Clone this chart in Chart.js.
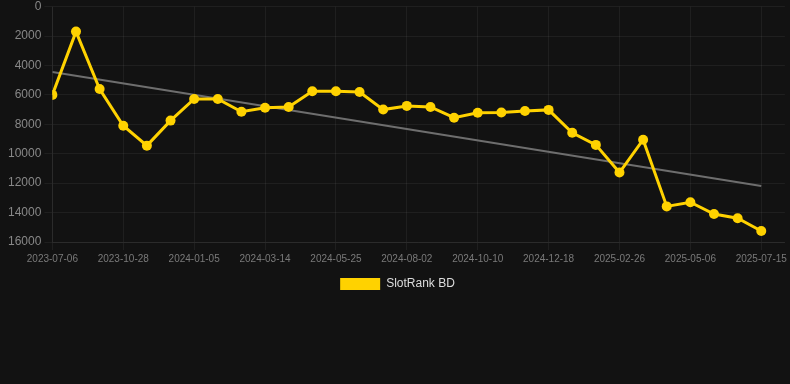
<!DOCTYPE html>
<html>
<head>
<meta charset="utf-8">
<script src="https://cdn.jsdelivr.net/npm/chart.js@4.4.0/dist/chart.umd.min.js"></script>
<style>
  html, body { margin: 0; padding: 0; background: #121212; }
  #wrap { width: 790px; height: 300px; position: relative; }
</style>
</head>
<body>
<div id="wrap"><canvas id="myChart"></canvas></div>
<script>
// fechas de cada punto (categorias)
const fechas = [
  '2023-07-06', '2023-08-13', '2023-09-20', '2023-10-28', '2023-11-20', '2023-12-13',
  '2024-01-05', '2024-01-28', '2024-02-20', '2024-03-14', '2024-04-07', '2024-05-01',
  '2024-05-25', '2024-06-17', '2024-07-10', '2024-08-02', '2024-08-25', '2024-09-17',
  '2024-10-10', '2024-11-02', '2024-11-25', '2024-12-18', '2025-01-10', '2025-02-02',
  '2025-02-26', '2025-03-21', '2025-04-13', '2025-05-06', '2025-05-29', '2025-06-21',
  '2025-07-15'
];
// posicion en el ranking
const ranking = [
  6000, 1700, 5600, 8100, 9450, 7750, 6280, 6280, 7150, 6880,
  6820, 5750, 5750, 5800, 7000, 6750, 6820, 7550, 7220, 7200,
  7100, 7020, 8580, 9400, 11280, 9050, 13580, 13300, 14100, 14380,
  15250
];
// linea de tendencia (inicio y fin)
const tendencia = [4450, 12200];
const ticksY = [0, 2000, 4000, 6000, 8000, 10000, 12000, 14000, 16000];

const amarillo = '#FFD200';
const rejilla = 'rgba(255,255,255,0.055)';
const fuente = "Arial, 'Liberation Sans', sans-serif";

const puntos = ranking.map((v, i) => ({ x: i, y: v }));
const lineaTendencia = [
  { x: 0, y: tendencia[0] },
  { x: fechas.length - 1, y: tendencia[1] }
];

new Chart(document.getElementById('myChart'), {
  type: 'line',
  data: {
    datasets: [
      {
        label: 'SlotRank BD',
        data: puntos,
        borderColor: amarillo,
        backgroundColor: amarillo,
        borderWidth: 3,
        pointRadius: 5,
        pointBackgroundColor: amarillo,
        pointBorderColor: amarillo,
        pointBorderWidth: 0,
        tension: 0
      },
      {
        label: 'trend',
        data: lineaTendencia,
        borderColor: '#6e6e6e',
        borderWidth: 2,
        pointRadius: 0,
        tension: 0
      }
    ]
  },
  options: {
    responsive: true,
    maintainAspectRatio: false,
    animation: false,
    layout: { padding: { left: 5, right: 0, top: 0, bottom: 0 } },
    plugins: {
      tooltip: { enabled: false },
      legend: {
        position: 'bottom',
        labels: {
          color: '#dddddd',
          boxWidth: 40,
          boxHeight: 12,
          font: { family: fuente, size: 12 },
          filter: (item) => item.text !== 'trend',
          generateLabels: (chart) => {
            const items = Chart.defaults.plugins.legend.labels.generateLabels(chart);
            items.forEach((it) => { it.lineWidth = 0; });
            return items;
          }
        }
      }
    },
    scales: {
      x: {
        type: 'linear',
        min: 0,
        max: fechas.length,
        grid: { color: rejilla },
        border: { color: rejilla },
        ticks: {
          stepSize: 3,
          autoSkip: false,
          maxRotation: 0,
          includeBounds: false,
          color: '#7a7a7a',
          font: { family: fuente, size: 10 },
          callback: (v) => fechas[v] !== undefined ? fechas[v] : null
        }
      },
      y: {
        reverse: true,
        min: ticksY[0],
        max: ticksY[ticksY.length - 1],
        grid: { color: rejilla },
        border: { color: rejilla },
        ticks: {
          stepSize: 2000,
          color: '#888888',
          font: { family: fuente, size: 12, lineHeight: 0.6 },
          callback: (v) => String(v)
        }
      }
    }
  }
});
</script>
</body>
</html>
